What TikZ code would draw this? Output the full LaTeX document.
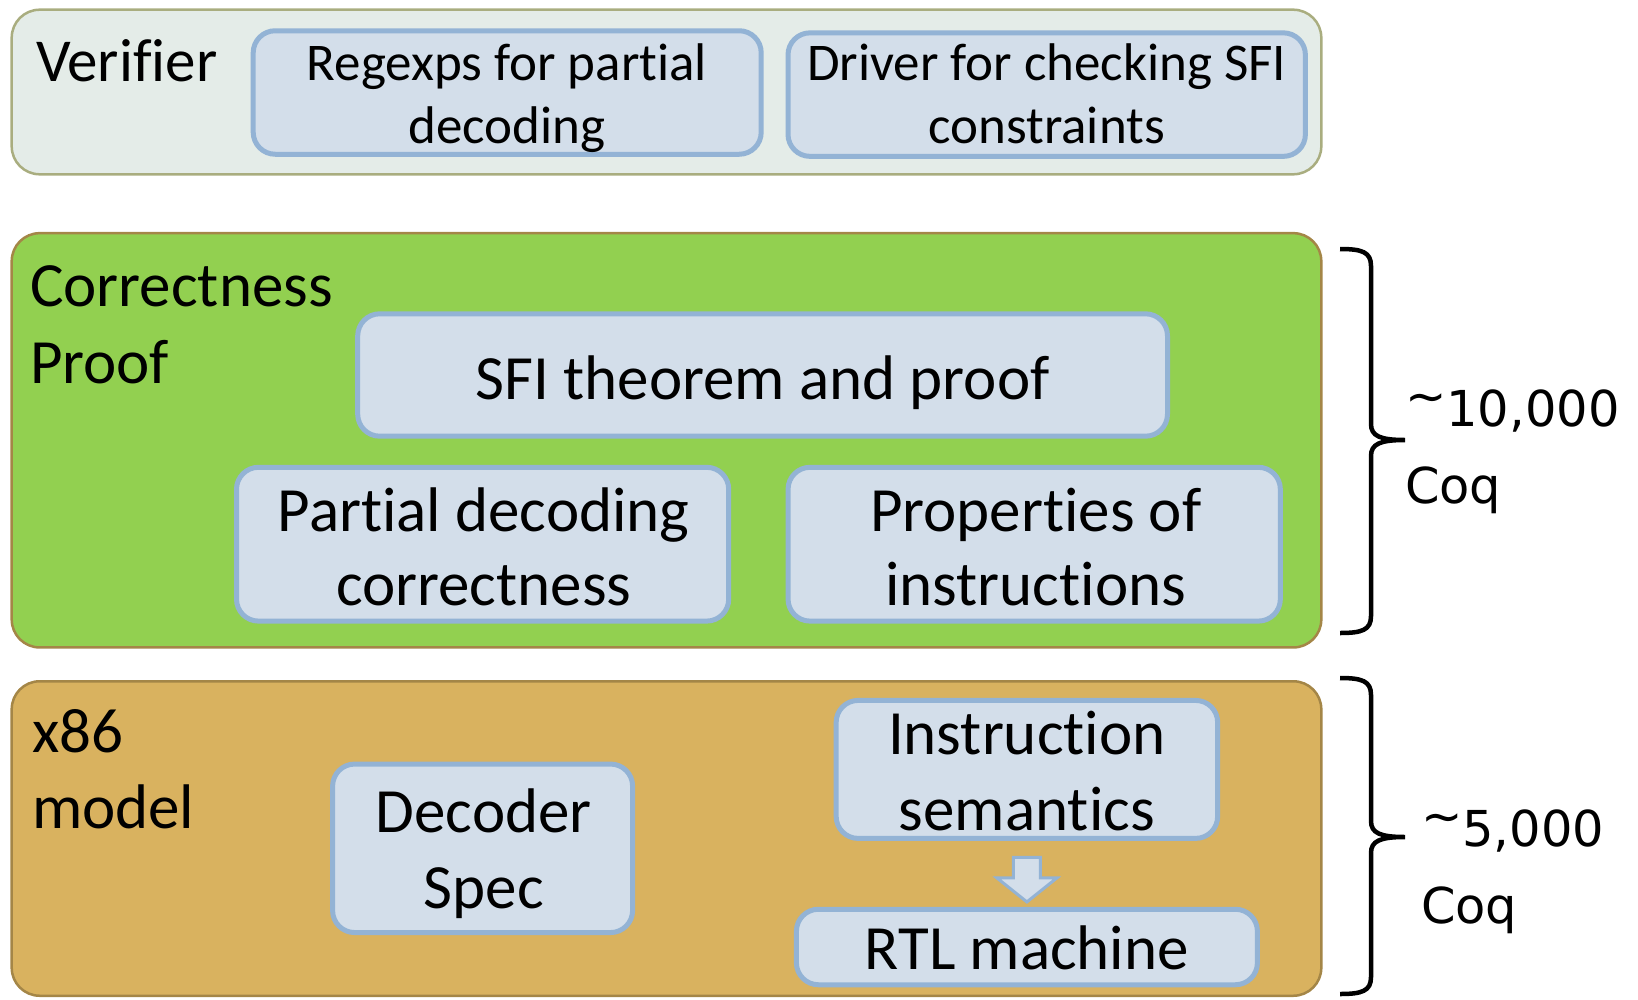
\documentclass[tikz,border=0pt]{standalone}
\usepackage{fontspec}
\setmainfont{Carlito}[Ligatures=NoCommon]
\newfontfamily\numfont{DejaVu Sans}
\usetikzlibrary{calc}
\definecolor{verfill}{HTML}{E4ECE8}
\definecolor{verdraw}{HTML}{A9AD7F}
\definecolor{grnfill}{HTML}{92D050}
\definecolor{brdraw}{HTML}{A48647}
\definecolor{goldfill}{HTML}{D9B25F}
\definecolor{boxfill}{HTML}{D3DEEA}
\definecolor{boxdraw}{HTML}{93B3D5}
\newcommand\stl{\rule[-.25em]{0pt}{1em}}
\newcommand\tld{\raisebox{.26em}{\textasciitilde}}
\tikzset{
  obox/.style={rounded corners=28pt, line width=2.5pt, inner sep=0pt},
  ibox/.style={draw=boxdraw, fill=boxfill, line width=5pt, rounded corners=22pt, inner sep=0pt},
  txt/.style={inner sep=0pt, outer sep=0pt, align=center, text=black},
  big/.style={font=\fontsize{63}{76}\selectfont},
  small/.style={font=\fontsize{53}{62.7}\selectfont},
  num/.style={inner sep=0pt, outer sep=0pt, align=left, anchor=west},
  bracepath/.style={draw=black, line width=4.5pt},
  blockarrow/.style={draw=boxdraw, fill=boxfill, line width=3pt, line join=miter}
}
\begin{document}
\begin{tikzpicture}[x=1pt,y=-1pt]
\useasboundingbox (0,0) rectangle (1638,999);
\begin{scope}
\clip (0,0) rectangle (1638,999);
% Verifier
\node[obox, draw=verdraw, fill=verfill, minimum width=1309.6pt, minimum height=164.6pt] (ver) at (666.5,92) {};
\node[txt, anchor=base west, font=\fontsize{61}{73}\selectfont] (verT) at (36,81.5) {Verifier};
\node[ibox, minimum width=508pt, minimum height=123.5pt] (reg) at (507.2,92.5) {};
\node[txt, small] (regT) at (507,98.5) {Regexps for partial\stl\\decoding\stl};
\node[ibox, minimum width=517.4pt, minimum height=123.5pt] (drv) at (1046.7,94.6) {};
\node[txt, small] (drvT) at (1046.7,99) {Driver for checking SFI\stl\\constraints\stl};
% Correctness proof
\node[obox, draw=brdraw, fill=grnfill, minimum width=1309.6pt, minimum height=414.3pt] (cor) at (666.5,440.3) {};
\node[txt, big, align=left, anchor=west, font=\fontsize{63}{77}\selectfont] (corT) at (30,328.75) {Correctness\stl\\Proof\stl};
\node[ibox, minimum width=809.8pt, minimum height=122.4pt] (sfi) at (762.6,375) {};
\node[txt, big, anchor=base] (sfiT) at (762.6,399) {SFI theorem and proof};
\node[ibox, minimum width=492.2pt, minimum height=153.8pt] (pdc) at (482.6,544.2) {};
\node[txt, font=\fontsize{63}{74}\selectfont] (pdcT) at (483.7,553) {Partial decoding\stl\\correctness\stl};
\node[ibox, minimum width=492.3pt, minimum height=153.8pt] (poi) at (1034.2,544.2) {};
\node[txt, font=\fontsize{63}{74}\selectfont] (poiT) at (1035.7,553) {Properties of\stl\\instructions\stl};
% x86 model
\node[obox, draw=brdraw, fill=goldfill, minimum width=1309.6pt, minimum height=314.5pt] (xm) at (666.5,838.5) {};
\node[txt, big, align=left, anchor=west] (xmT) at (32,774.25) {x86\stl\\model\stl};
\node[ibox, minimum width=300pt, minimum height=168.5pt] (dec) at (482.6,848.3) {};
\node[txt, font=\fontsize{63}{76.3}\selectfont] (decT) at (483.7,854.9) {Decoder\stl\\Spec\stl};
\node[ibox, minimum width=381.5pt, minimum height=138pt] (ins) at (1026.9,769.4) {};
\node[txt, font=\fontsize{63}{76.5}\selectfont] (insT) at (1026.8,776.5) {Instruction\stl\\semantics\stl};
\node[ibox, minimum width=461pt, minimum height=75.5pt] (rtl) at (1026.9,947) {};
\node[txt, big, anchor=base] (rtlT) at (1026.8,969.4) {RTL machine};
% block arrow from ins to rtl
\draw[blockarrow] ($(ins.south)+(-13.5,16.5)$) -- ($(ins.south)+(13.5,16.5)$) -- ($(ins.south)+(13.5,37)$) -- ($(ins.south)+(30,37)$) -- ($(ins.south)+(0,61)$) -- ($(ins.south)+(-30,37)$) -- ($(ins.south)+(-13.5,37)$) -- cycle;
% braces
\draw[bracepath] (1340,249) .. controls (1362,249) and (1371,252) .. (1371,266) -- (1371,424) .. controls (1371,436) and (1380,440) .. (1405,440) .. controls (1380,440) and (1371,444) .. (1371,456) -- (1371,616) .. controls (1371,630) and (1362,633) .. (1340,633);
\draw[bracepath] (1340,678) .. controls (1362,678) and (1371,681) .. (1371,695) -- (1371,821) .. controls (1371,833) and (1380,837) .. (1405,837) .. controls (1380,837) and (1371,841) .. (1371,853) -- (1371,977) .. controls (1371,991) and (1362,994) .. (1340,994);
\node[num, font=\numfont\fontsize{49.5}{77.5}\selectfont] (n10) at (1405,452.5) {\tld 10,000\stl\\Coq\stl};
\node[num, font=\numfont\fontsize{49.5}{77.5}\selectfont] (n5) at (1421,872.5) {\tld 5,000\stl\\Coq\stl};
\end{scope}
\end{tikzpicture}
\end{document}
